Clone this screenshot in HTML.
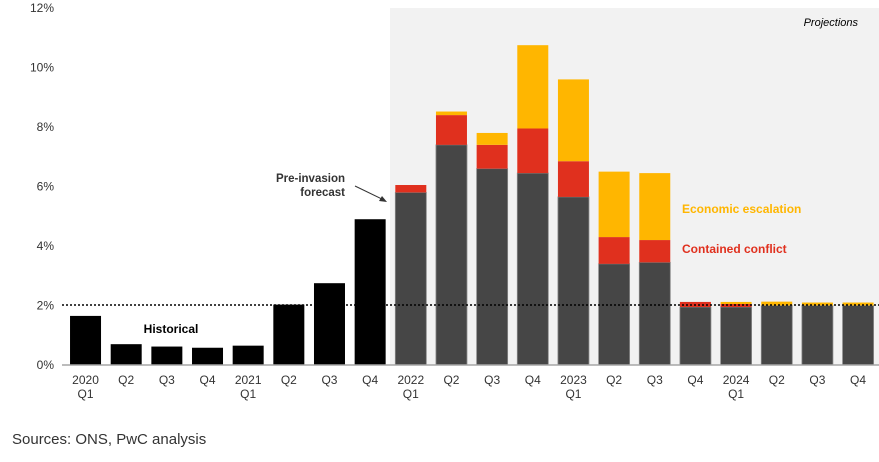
<!DOCTYPE html>
<html><head><meta charset="utf-8"><style>
body{margin:0;background:#fff;width:879px;height:457px;overflow:hidden;font-family:"Liberation Sans",Arial,sans-serif}
svg text{font-family:"Liberation Sans",Arial,sans-serif}
</style></head><body>
<svg id="chart" width="879" height="457">
<rect x="390" y="8" width="489" height="357" fill="#f2f2f2"/>
<text x="858" y="26" font-size="11" font-style="italic" text-anchor="end" fill="#000">Projections</text>
<g id="yaxis"></g>
<g id="bars"></g>
<g id="xaxis"></g>
<line x1="62" y1="305" x2="879" y2="305" stroke="#000" stroke-width="1.5" stroke-dasharray="2,2"/>
<line x1="62" y1="365" x2="879" y2="365" stroke="#a6a6a6" stroke-width="1.5"/>
<text x="171" y="333" font-size="12" font-weight="bold" text-anchor="middle">Historical</text>
<text x="345" y="182" font-size="11.5" font-weight="bold" fill="#333" text-anchor="end">Pre-invasion</text>
<text x="345" y="196" font-size="11.5" font-weight="bold" fill="#333" text-anchor="end">forecast</text>
<line x1="355" y1="186" x2="384" y2="200" stroke="#333" stroke-width="1"/>
<polygon points="387,202 379,201 382,196" fill="#333"/>
<text x="682" y="213" font-size="12" font-weight="bold" fill="#ffb600">Economic escalation</text>
<text x="682" y="253" font-size="12" font-weight="bold" fill="#e0301e">Contained conflict</text>
<text x="12" y="444" font-size="15" fill="#333">Sources: ONS, PwC analysis</text>
</svg>
<script>
const cats=["2020|Q1","Q2","Q3","Q4","2021|Q1","Q2","Q3","Q4","2022|Q1","Q2","Q3","Q4","2023|Q1","Q2","Q3","Q4","2024|Q1","Q2","Q3","Q4"];
const historical=[1.65,0.7,0.62,0.58,0.65,2.03,2.75,4.9,null,null,null,null,null,null,null,null,null,null,null,null];
const baseline=[null,null,null,null,null,null,null,null,5.8,7.4,6.6,6.45,5.65,3.4,3.45,1.95,1.95,2.0,2.0,2.0];
const contained=[0,0,0,0,0,0,0,0,0.25,1.0,0.8,1.5,1.2,0.9,0.75,0.17,0.1,0,0,0];
const escalation=[0,0,0,0,0,0,0,0,0,0.12,0.4,2.8,2.75,2.2,2.25,0,0.07,0.13,0.1,0.1];
const yticks=[0,2,4,6,8,10,12];
const NS="http://www.w3.org/2000/svg";
const x0=65.2,band=40.66,bw=31;
const y=v=>365-v*29.75;
const xc=i=>x0+band*(i+0.5);
function mk(t,a,p){const e=document.createElementNS(NS,t);for(const k in a)e.setAttribute(k,a[k]);p.appendChild(e);return e;}
const ya=document.getElementById('yaxis');
yticks.forEach(v=>{const t=mk('text',{x:54,y:y(v)+4,'font-size':12,'text-anchor':'end',fill:'#333'},ya);t.textContent=v+'%';

});
const bars=document.getElementById('bars');
cats.forEach((c,i)=>{
 const l=xc(i)-bw/2;
 if(historical[i]!=null){const r=mk('rect',{x:l,y:y(historical[i]),width:bw,height:y(0)-y(historical[i]),fill:'#000'},bars);
  
  }
 if(baseline[i]!=null){
  let b=baseline[i];
  const r=mk('rect',{x:l,y:y(b),width:bw,height:y(0)-y(b),fill:'#464646',stroke:'#888','stroke-width':0.8},bars);
  
  
  if(contained[i]>0){const r2=mk('rect',{x:l,y:y(b+contained[i]),width:bw,height:y(b)-y(b+contained[i]),fill:'#e0301e'},bars);
   
   }
  const t=b+contained[i];
  if(escalation[i]>0){const r3=mk('rect',{x:l,y:y(t+escalation[i]),width:bw,height:y(t)-y(t+escalation[i]),fill:'#ffb600'},bars);
   
   }
 }
 const xa=document.getElementById('xaxis');
 c.split('|').forEach((s,j)=>{const t=mk('text',{x:xc(i),y:384+j*14,'font-size':12,'text-anchor':'middle',fill:'#333'},xa);t.textContent=s;
  
  });
});
</script>
</body></html>
